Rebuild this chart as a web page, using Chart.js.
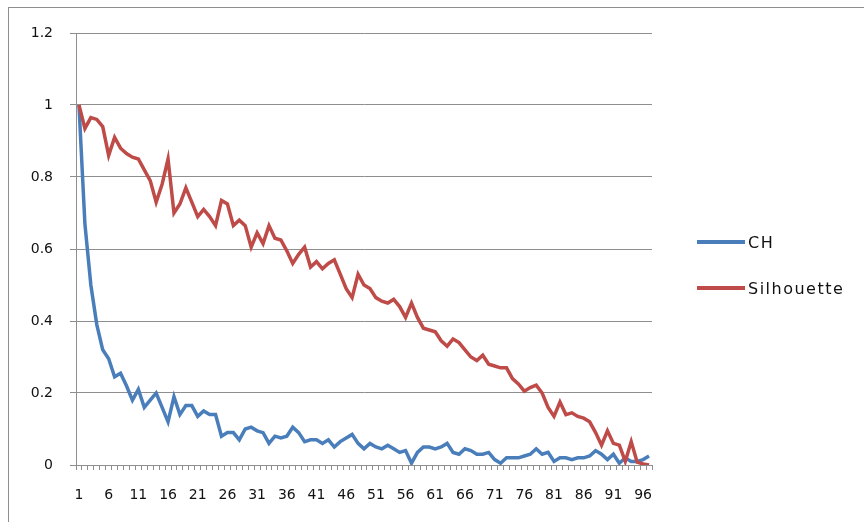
<!DOCTYPE html>
<html lang="en">
<head>
  <meta charset="UTF-8">
  <title>CH / Silhouette</title>
  <script src="https://cdn.jsdelivr.net/npm/chart.js"></script>
  <style>
    body {
      margin: 0;
      background: #ffffff;
    }
    #wrap {
      position: relative;
      width: 864px;
      height: 522px;
      overflow: hidden;
    }
    #frame {
      position: absolute;
      left: 8px;
      top: 7px;
      right: -3px;
      bottom: -3px;
      border: 1px solid #8e8e8e;
      pointer-events: none;
    }
    .item {
      position: absolute;
      left: 697px;
      height: 20px;
      display: flex;
      align-items: center;
      font-family: "DejaVu Sans", sans-serif;
      font-size: 16px;
      letter-spacing: 1.5px;
      color: #111;
    }
    .item .swatch {
      width: 48px;
      height: 4px;
      margin-right: 3px;
    }
  </style>
</head>
<body>
  <div id="wrap">
    <canvas id="chart" width="864" height="522"></canvas>
    <div id="frame"></div>
    <div class="item" style="top:232px"><span class="swatch" style="background:#4a7ebb"></span>CH</div>
    <div class="item" style="top:278px"><span class="swatch" style="background:#be4b48"></span>Silhouette</div>
  </div>

  <script>
    // categories 1..97
    const categories = [
      '1','2','3','4','5','6','7','8','9','10','11','12','13','14','15','16','17','18','19','20',
      '21','22','23','24','25','26','27','28','29','30','31','32','33','34','35','36','37','38','39','40',
      '41','42','43','44','45','46','47','48','49','50','51','52','53','54','55','56','57','58','59','60',
      '61','62','63','64','65','66','67','68','69','70','71','72','73','74','75','76','77','78','79','80',
      '81','82','83','84','85','86','87','88','89','90','91','92','93','94','95','96','97'
    ];
    const xTickLabels = ['1','6','11','16','21','26','31','36','41','46','51','56','61','66','71','76','81','86','91','96'];
    const yTickValues = [0, 0.2, 0.4, 0.6, 0.8, 1, 1.2];

    const chValues = [
      1.00, 0.67, 0.50, 0.39, 0.32, 0.295, 0.245, 0.255, 0.22, 0.18,
      0.21, 0.16, 0.18, 0.20, 0.16, 0.12, 0.19, 0.14, 0.165, 0.165,
      0.135, 0.15, 0.14, 0.14, 0.08, 0.09, 0.09, 0.07, 0.10, 0.105,
      0.095, 0.09, 0.06, 0.08, 0.075, 0.08, 0.105, 0.09, 0.065, 0.07,
      0.07, 0.06, 0.07, 0.05, 0.065, 0.075, 0.085, 0.06, 0.045, 0.06,
      0.05, 0.045, 0.055, 0.045, 0.035, 0.04, 0.005, 0.035, 0.05, 0.05,
      0.045, 0.05, 0.06, 0.035, 0.03, 0.045, 0.04, 0.03, 0.03, 0.035,
      0.015, 0.005, 0.02, 0.02, 0.02, 0.025, 0.03, 0.045, 0.03, 0.035,
      0.01, 0.02, 0.02, 0.015, 0.02, 0.02, 0.025, 0.04, 0.03, 0.015,
      0.03, 0.005, 0.02, 0.01, 0.01, 0.015, 0.025
    ];
    const silhouetteValues = [
      1.00, 0.935, 0.965, 0.96, 0.94, 0.86, 0.91, 0.88, 0.865, 0.855,
      0.85, 0.82, 0.79, 0.73, 0.78, 0.85, 0.70, 0.725, 0.77, 0.73,
      0.69, 0.71, 0.69, 0.665, 0.735, 0.725, 0.665, 0.68, 0.665, 0.605,
      0.645, 0.615, 0.665, 0.63, 0.625, 0.595, 0.56, 0.585, 0.605, 0.55,
      0.565, 0.545, 0.56, 0.57, 0.53, 0.49, 0.465, 0.53, 0.50, 0.49,
      0.465, 0.455, 0.45, 0.46, 0.44, 0.41, 0.45, 0.41, 0.38, 0.375,
      0.37, 0.345, 0.33, 0.35, 0.34, 0.32, 0.30, 0.29, 0.305, 0.28,
      0.275, 0.27, 0.27, 0.24, 0.225, 0.205, 0.215, 0.222, 0.20, 0.16,
      0.135, 0.175, 0.14, 0.145, 0.135, 0.13, 0.12, 0.09, 0.055, 0.095,
      0.06, 0.055, 0.01, 0.065, 0.008, 0.003, 0.0
    ];

    const axisGray = '#8e8e8e';
    const tickFont = { family: 'DejaVu Sans', size: 14 };

    const ctx = document.getElementById('chart').getContext('2d');
    new Chart(ctx, {
      type: 'line',
      data: {
        labels: categories,
        datasets: [{
          label: 'CH',
          data: chValues,
          borderColor: '#4a7ebb',
          borderWidth: 3.5,
          pointRadius: 0,
          tension: 0,
          order: 1
        }, {
          label: 'Silhouette',
          data: silhouetteValues,
          borderColor: '#be4b48',
          borderWidth: 3.5,
          pointRadius: 0,
          tension: 0,
          order: 0
        }]
      },
      options: {
        responsive: false,
        animation: false,
        layout: { padding: { left: 0, top: 33, right: 212, bottom: 0 } },
        plugins: {
          legend: { display: false },
          tooltip: { enabled: false }
        },
        scales: {
          x: {
            offset: true,
            grid: { offset: true, drawOnChartArea: false, tickLength: 5, color: axisGray },
            border: { color: axisGray },
            ticks: {
              autoSkip: false,
              maxRotation: 0,
              padding: 17,
              color: '#111',
              font: tickFont,
              callback: (v, i) => xTickLabels.includes(categories[i]) ? categories[i] : ''
            },
            afterFit: s => { s.height = 57; }
          },
          y: {
            min: 0,
            max: 1.2,
            afterBuildTicks: s => { s.ticks = yTickValues.map(v => ({ value: v })); },
            ticks: {
              padding: 17,
              color: '#111',
              font: tickFont,
              callback: v => String(Number(v.toFixed(1)))
            },
            grid: { color: axisGray, tickLength: 6 },
            border: { color: axisGray },
            afterFit: s => { s.width = 76; }
          }
        }
      }
    });
  </script>
</body>
</html>
